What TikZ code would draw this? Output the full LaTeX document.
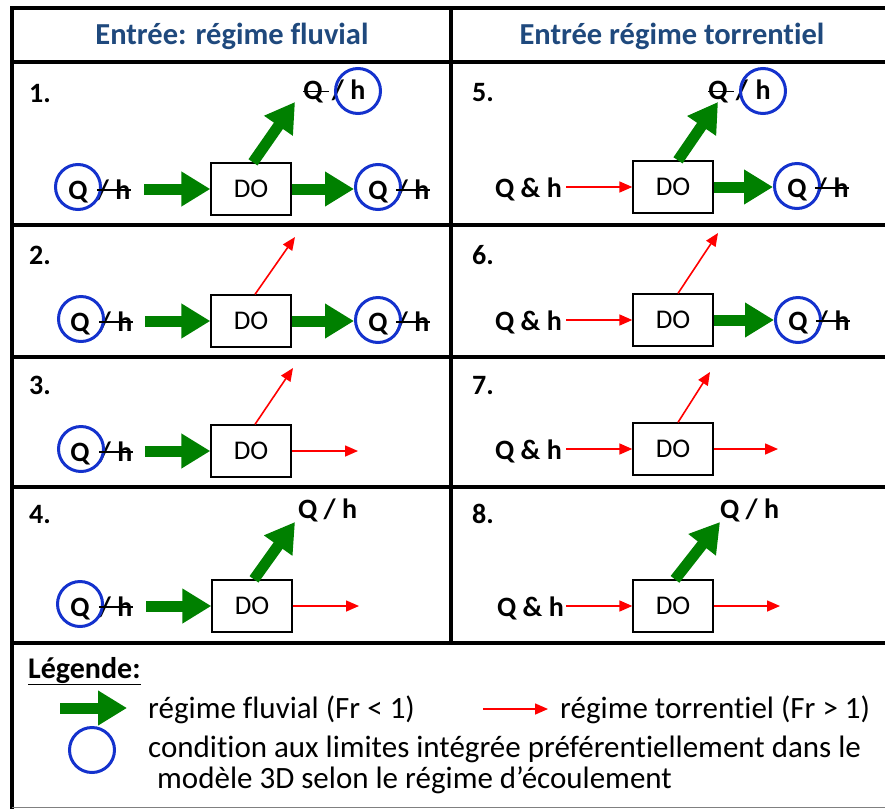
\documentclass[tikz,border=0pt]{standalone}
\usepackage{fontspec}
\setmainfont{Carlito}[Ligatures=NoCommon]
\usetikzlibrary{arrows.meta}
\definecolor{fluvgreen}{RGB}{0,128,0}
\definecolor{ringblue}{RGB}{20,50,205}
\definecolor{headblue}{RGB}{31,73,125}

\begin{document}
\begin{tikzpicture}[
    x=1pt, y=-1pt,
    rule/.style={line width=4.5pt},
    head/.style={headblue, font=\bfseries\fontsize{30.5}{34}\selectfont},
    num/.style={font=\bfseries\fontsize{28}{32}\selectfont, anchor=base west, inner sep=0},
    lab/.style={font=\bfseries\fontsize{28}{32}\selectfont, anchor=base, inner sep=0},
    txt/.style={font=\fontsize{31}{34}\selectfont, anchor=base west, inner sep=0},
    dobox/.style={draw, line width=1.3pt, minimum width=80pt, minimum height=52pt,
        inner sep=0, font=\fontsize{27}{30}\selectfont},
    ring/.style={circle, draw=ringblue, line width=3pt, minimum size=45pt, inner sep=0},
    fluv/.style={fluvgreen, line width=11pt, -{Triangle[length=29pt,width=33pt]}},
    torr/.style={red, line width=1.6pt, -{Triangle[length=13pt,width=11pt]}},
    strike/.style={line width=1.6pt}
]
\useasboundingbox (0,0) rectangle (885,809);

% Table
\draw[rule] (12,8) -- (885,8);
\draw[rule] (12,6) -- (12,809);
\draw[rule] (451,8) -- (451,643);
\foreach \yy in {62,225,357,487,643}
    \draw[rule] (12,\yy) -- (885,\yy);
\draw[gray, line width=1pt] (12,807) -- (885,807);

% Headers
\node[head] (hd1) at (232,36) {Entrée: régime fluvial};
\node[head] (hd2) at (672,36) {Entrée régime torrentiel};

% 1.
\node[num] (n1) at (29,102) {1.};
\node[dobox] (do1) at (251,189) {DO};
\node[lab] (q1a) at (78,199) {Q};
\node[lab] (s1a) at (103,199) {/};
\node[lab] (h1a) at (123,199) {h};
\node[ring] (c1a) at (78,187) {};
\draw[strike] (s1a.west) -- (s1a.west -| h1a.east);
\coordinate (a1) at (144,189);
\draw[fluv] (a1) -- (do1.west);
\node[lab] (q1b) at (378,199) {Q};
\node[lab] (s1b) at (402,199) {/};
\node[lab] (h1b) at (422,199) {h};
\node[ring] (c1b) at (378,187) {};
\draw[strike] (s1b.west) -- (s1b.west -| h1b.east);
\draw[fluv] (do1.east) -- (do1.east -| c1b.west);
\node[lab] (q1c) at (313,99) {Q};
\node[lab] (s1c) at (338,99) {/};
\node[lab] (h1c) at (358,99) {h};
\node[ring] (c1c) at (358,91) {};
\draw[strike] (q1c.west) -- ([xshift=6pt]q1c.east);
\coordinate (u1) at (295,102);
\draw[fluv] ([xshift=2pt]do1.north) -- (u1);

% 2.
\node[num] (n2) at (29,264) {2.};
\node[dobox] (do2) at (251,321) {DO};
\node[lab] (q2a) at (80,331) {Q};
\node[lab] (s2a) at (105,331) {/};
\node[lab] (h2a) at (125,331) {h};
\node[ring] (c2a) at (81,319) {};
\draw[strike] (s2a.west) -- (s2a.west -| h2a.east);
\coordinate (a2) at (145,321);
\draw[fluv] (a2) -- (do2.west);
\node[lab] (q2b) at (378,331) {Q};
\node[lab] (s2b) at (402,331) {/};
\node[lab] (h2b) at (422,331) {h};
\node[ring] (c2b) at (378,320) {};
\draw[strike] (s2b.west) -- (s2b.west -| h2b.east);
\draw[fluv] (do2.east) -- (do2.east -| c2b.west);
\coordinate (u2) at (295,237);
\draw[torr] ([xshift=4pt]do2.north) -- (u2);

% 3.
\node[num] (n3) at (29,394) {3.};
\node[dobox] (do3) at (251,451) {DO};
\node[lab] (q3a) at (80,461) {Q};
\node[lab] (s3a) at (105,461) {/};
\node[lab] (h3a) at (125,461) {h};
\node[ring] (c3a) at (81,449) {};
\draw[strike] (s3a.west) -- (s3a.west -| h3a.east);
\coordinate (a3) at (145,451);
\draw[fluv] (a3) -- (do3.west);
\coordinate (o3) at (358,451);
\draw[torr] (do3.east) -- (o3);
\coordinate (u3) at (293,368);
\draw[torr] ([xshift=4pt]do3.north) -- (u3);

% 4.
\node[num] (n4) at (29,523) {4.};
\node[dobox] (do4) at (252,606) {DO};
\node[lab] (q4a) at (80,616) {Q};
\node[lab] (s4a) at (105,616) {/};
\node[lab] (h4a) at (125,616) {h};
\node[ring] (c4a) at (80,604) {};
\draw[strike] (s4a.west) -- (s4a.west -| h4a.east);
\coordinate (a4) at (146,606);
\draw[fluv] (a4) -- (do4.west);
\coordinate (o4) at (359,606);
\draw[torr] (do4.east) -- (o4);
\node[lab, anchor=base west] (t4) at (298,518) {Q / h};
\coordinate (u4) at (295,522);
\draw[fluv] ([xshift=2pt]do4.north) -- (u4);

% 5.
\node[num] (n5) at (472,101) {5.};
\node[dobox] (do5) at (673,187) {DO};
\node[lab, anchor=base west] (i5) at (495,197) {Q \& h};
\draw[torr, shorten <=4pt] (i5.east |- do5.west) -- (do5.west);
\node[lab] (q5b) at (797,197) {Q};
\node[lab] (s5b) at (821,197) {/};
\node[lab] (h5b) at (841,197) {h};
\node[ring] (c5b) at (797,186) {};
\draw[strike] (s5b.west) -- (s5b.west -| h5b.east);
\draw[fluv] (do5.east) -- (do5.east -| c5b.west);
\node[lab] (q5c) at (718,99) {Q};
\node[lab] (s5c) at (742,99) {/};
\node[lab] (h5c) at (763,99) {h};
\node[ring] (c5c) at (763,91) {};
\draw[strike] (q5c.west) -- ([xshift=6pt]q5c.east);
\coordinate (u5) at (718,102);
\draw[fluv] ([xshift=5pt]do5.north) -- (u5);

% 6.
\node[num] (n6) at (472,264) {6.};
\node[dobox] (do6) at (673,320) {DO};
\node[lab, anchor=base west] (i6) at (495,330) {Q \& h};
\draw[torr, shorten <=4pt] (i6.east |- do6.west) -- (do6.west);
\node[lab] (q6b) at (798,330) {Q};
\node[lab] (s6b) at (822,330) {/};
\node[lab] (h6b) at (842,330) {h};
\node[ring] (c6b) at (798,320) {};
\draw[strike] (s6b.west) -- (s6b.west -| h6b.east);
\draw[fluv] (do6.east) -- (do6.east -| c6b.west);
\coordinate (u6) at (718,233);
\draw[torr] ([xshift=5pt]do6.north) -- (u6);

% 7.
\node[num] (n7) at (472,394) {7.};
\node[dobox] (do7) at (673,449) {DO};
\node[lab, anchor=base west] (i7) at (495,459) {Q \& h};
\draw[torr, shorten <=4pt] (i7.east |- do7.west) -- (do7.west);
\coordinate (o7) at (778,449);
\draw[torr] (do7.east) -- (o7);
\coordinate (u7) at (710,372);
\draw[torr] ([xshift=5pt]do7.north) -- (u7);

% 8.
\node[num] (n8) at (472,523) {8.};
\node[dobox] (do8) at (673,606) {DO};
\node[lab, anchor=base west] (i8) at (497,616) {Q \& h};
\draw[torr, shorten <=2pt] (i8.east |- do8.west) -- (do8.west);
\coordinate (o8) at (780,606);
\draw[torr] (do8.east) -- (o8);
\node[lab, anchor=base west] (t8) at (720,518) {Q / h};
\coordinate (u8) at (720,522);
\draw[fluv] ([xshift=2pt]do8.north) -- (u8);

% Legend
\node[num, font=\bfseries\fontsize{30}{34}\selectfont] (leg) at (28,678) {\underline{Légende:}};
\coordinate (lg0) at (60,708);
\coordinate (lg1) at (127,708);
\draw[fluv] (lg0) -- (lg1);
\node[txt] (l1) at (148,718) {régime fluvial (Fr < 1)};
\coordinate (lr0) at (483,709);
\coordinate (lr1) at (548,709);
\draw[torr] (lr0) -- (lr1);
\node[txt] (l2) at (560,718) {régime torrentiel (Fr > 1)};
\node[ring] (lc) at (92,750) {};
\node[txt] (l3) at (148,757) {condition aux limites intégrée préférentiellement dans le};
\node[txt] (l4) at (157,788) {modèle 3D selon le régime d’écoulement};

\end{tikzpicture}
\end{document}
